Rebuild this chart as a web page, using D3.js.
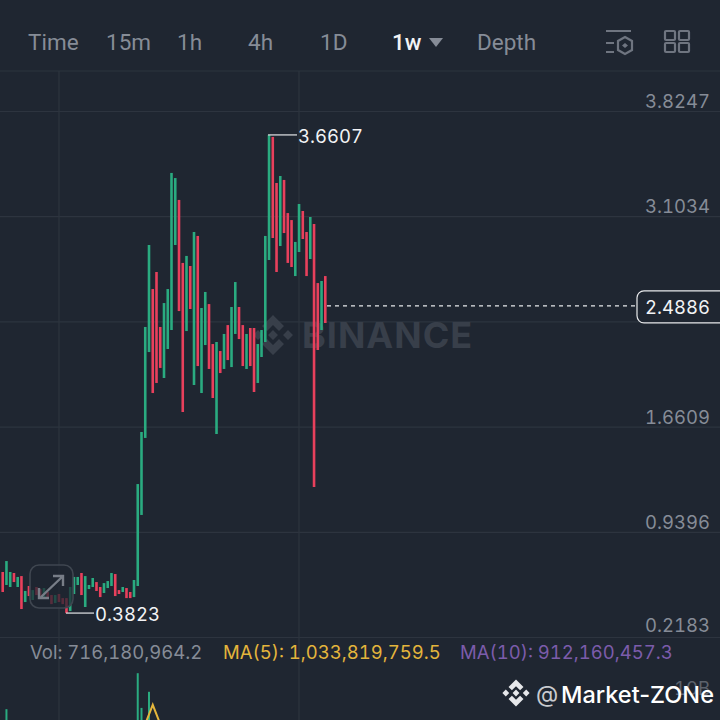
<!DOCTYPE html>
<html>
<head>
<meta charset="utf-8">
<script src="https://cdn.jsdelivr.net/npm/d3@7"></script>
<style>
  html, body { margin: 0; padding: 0; background: #1f2631; overflow: hidden; }
  svg { display: block; }
  text { font-variant-numeric: tabular-nums; }
</style>
</head>
<body>
<script>
// candle ranges (price units), oldest first
const highs = [0.664,0.739,0.664,0.657,0.630,0.636,0.534,0.568,0.540,0.561,
  0.547,0.554,0.527,0.506,0.506,0.513,0.485,0.485,0.561,0.630,
  0.630,0.657,0.636,0.575,0.623,0.595,0.561,0.588,0.602,0.657,
  0.650,0.540,0.561,0.554,0.527,0.609,1.267,1.624,2.344,2.906,
  2.604,2.721,2.344,2.508,2.604,3.400,3.365,3.215,2.783,2.831,
  2.762,2.995,2.968,2.474,2.584,2.501,2.227,2.241,2.179,2.296,
  2.357,2.481,2.652,2.481,2.357,2.296,2.337,2.337,2.227,2.323,
  2.968,3.661,3.647,3.331,3.379,3.352,3.125,3.077,2.927,3.187,
  3.139,2.995,3.098,3.050,2.645,2.659,2.693];
const lows = [0.527,0.575,0.561,0.595,0.561,0.410,0.458,0.499,0.472,0.506,
  0.492,0.492,0.485,0.444,0.451,0.458,0.444,0.382,0.396,0.513,
  0.575,0.506,0.424,0.547,0.561,0.534,0.492,0.520,0.554,0.568,
  0.499,0.513,0.527,0.485,0.485,0.492,0.568,1.055,1.583,2.172,
  1.891,1.960,2.063,1.994,2.193,2.323,2.906,2.453,1.761,2.316,
  2.467,1.946,2.076,1.891,2.220,2.056,1.857,1.610,2.028,2.056,
  2.117,2.069,2.296,2.261,2.076,2.056,2.076,1.898,1.960,2.138,
  2.241,2.803,2.954,2.721,2.899,2.988,2.783,2.755,2.693,2.858,
  2.947,2.693,2.810,1.247,2.186,2.323,2.371];
// 1 = green candle, 0 = red candle
const rising = [0,1,1,0,1,0,1,0,1,0,
  0,1,0,0,1,0,0,0,1,1,
  1,0,1,1,1,0,0,1,1,1,
  0,0,1,0,0,1,1,1,1,1,
  0,0,0,1,1,1,1,0,0,1,
  0,1,0,1,1,0,0,1,0,1,
  0,1,1,0,0,1,0,0,1,1,
  1,1,0,0,1,0,0,0,1,1,
  0,0,1,0,0,1,0];

// axis ticks, the 2.3822 one sits under the price tag
const priceTicks = [3.8247, 3.1034, 2.3822, 1.6609, 0.9396, 0.2183];
const lastPrice = 2.4886;
const highMark = 3.6607, lowMark = 0.3823;

// only these volume bars show above the bottom edge (in billions)
const volIndex = [1, 36, 37, 39];
const volValues = [8.2, 14.0, 8.4, 11.0];
const maIndex = [38, 40, 42];
const maValues = [5.8, 8.9, 5.8];

const tabs = ["Time", "15m", "1h", "4h", "1D", "1w", "Depth"];
const tabX = [28, 106, 177, 248, 320, 392, 477];

const bg = "#1f2631", grid = "#2d343f", gray = "#868c97";
const green = "#2aab80", red = "#e8405c";
const font = "Inter, sans-serif";
const labelSize = 18.5;

const svg = d3.select("body").append("svg").attr("width", 720).attr("height", 720);
svg.append("rect").attr("width", 720).attr("height", 720).attr("fill", bg);

const x = d3.scaleLinear().domain([0, highs.length - 1]).range([2.7, 325.3]);
const y = d3.scaleLinear().domain([0.2183, 3.8247]).range([637, 111]);
const yVol = d3.scaleLinear().domain([0, 10]).range([760, 698]);

// header
svg.append("line").attr("x1", 0).attr("x2", 720).attr("y1", 71).attr("y2", 71).attr("stroke", grid).attr("stroke-width", 1.2);
svg.selectAll(".tab").data(tabs).join("text")
    .attr("class", "tab")
    .attr("x", (d, i) => tabX[i])
    .attr("y", 50)
    .attr("font-family", "Roboto, sans-serif")
    .attr("font-size", 22.5)
    .attr("font-weight", d => d === "1w" ? 500 : 400)
    .attr("fill", d => d === "1w" ? "#f2f3f5" : gray)
    .text(d => d);
svg.append("path").attr("d", "M429,38H443L436,47Z").attr("fill", gray);

// list + hexagon icon
const icon = svg.append("g").attr("stroke", "#6f7580").attr("fill", "none").attr("stroke-width", 2.2);
icon.append("path").attr("d", "M606,31H631M606,43H614M606,52H614");
icon.append("path").attr("d", "M625,37L632,41V50L625,54L618,50V41Z");
icon.append("path").attr("d", "M625,43L628,45.500L625,48L622,45.500Z").attr("fill", "#6f7580").attr("stroke", "none");
// four squares icon
[[665, 31], [679, 31], [665, 43], [679, 43]].forEach(p => {
  icon.append("rect").attr("x", p[0]).attr("y", p[1]).attr("width", 10).attr("height", 9).attr("rx", 1);
});

// grid, labels lifted above their lines
const axis = d3.axisRight(y)
    .tickValues(priceTicks)
    .tickSize(720)
    .tickFormat(d => d === 2.3822 ? "" : d3.format(".4f")(d));
const gAxis = svg.append("g").call(axis);
gAxis.select(".domain").remove();
gAxis.selectAll(".tick line").attr("stroke", grid).attr("stroke-width", 1.2);
gAxis.selectAll(".tick text")
    .attr("x", 710).attr("dy", d => d === 0.2183 ? "-5.5px" : "-3.5px").attr("text-anchor", "end")
    .attr("font-family", font).attr("font-size", labelSize).attr("fill", gray);
svg.selectAll(".vgrid").data([59, 299]).join("line")
    .attr("class", "vgrid")
    .attr("x1", d => d).attr("x2", d => d).attr("y1", 71).attr("y2", 720)
    .attr("stroke", grid).attr("stroke-width", 1.2);

// BINANCE watermark
const mark = svg.append("g").attr("fill", "#383f4a");
function diamonds(g, cx, cy, s) {
  g.append("path").attr("transform", `translate(${cx},${cy}) scale(${s})`)
    .attr("fill-rule", "evenodd")
    .attr("d", "M0,-20L11,-9L6,-4L0,-10L-6,-4L-11,-9ZM-20,0L-15,-5L-10,0L-15,5ZM20,0L15,-5L10,0L15,5ZM0,-5L5,0L0,5L-5,0ZM0,20L11,9L6,4L0,10L-6,4L-11,9Z");
}
diamonds(mark, 273, 335, 1);
mark.append("text").attr("x", 302).attr("y", 348).attr("font-family", font)
    .attr("font-size", 36).attr("font-weight", 700).attr("letter-spacing", 1).text("BINANCE");

// candles
const candles = svg.append("g");
candles.selectAll("line").data(highs).join("line")
    .attr("x1", (d, i) => x(i))
    .attr("x2", (d, i) => x(i))
    .attr("y1", d => y(d))
    .attr("y2", (d, i) => y(lows[i]))
    .attr("stroke", (d, i) => rising[i] ? green : red)
    .attr("stroke-width", 2.6);

// high / low callouts
const callouts = [[71, highMark, 298], [17, lowMark, 95]];
callouts.forEach(c => {
  const cy = y(c[1]);
  const x0 = c[0] === 71 ? x(71) - 1 : 66;
  svg.append("line").attr("x1", x0).attr("x2", c[2] - 1).attr("y1", cy).attr("y2", cy)
      .attr("stroke", "#d5d7db").attr("stroke-width", 1.3);
  svg.append("text").attr("x", c[2]).attr("y", cy + 8).attr("font-family", font)
      .attr("font-size", labelSize).attr("fill", "#f2f3f5").text(d3.format(".4f")(c[1]));
});

// last price line and tag
const py = y(lastPrice);
svg.append("line").attr("x1", 327).attr("x2", 637).attr("y1", py).attr("y2", py)
    .attr("stroke", "#e8e9eb").attr("stroke-width", 1.2).attr("stroke-dasharray", "4,4");
svg.append("rect").attr("x", 637).attr("y", py - 15).attr("width", 90).attr("height", 32).attr("rx", 7)
    .attr("fill", bg).attr("stroke", "#e8e9eb").attr("stroke-width", 1.2);
svg.append("text").attr("x", 710).attr("y", py + 8).attr("text-anchor", "end").attr("font-family", font)
    .attr("font-size", labelSize).attr("fill", "#f2f3f5").text(d3.format(".4f")(lastPrice));

// expand button
svg.append("rect").attr("x", 30).attr("y", 565).attr("width", 43).attr("height", 43).attr("rx", 9)
    .attr("fill", bg).attr("fill-opacity", 0.72).attr("stroke", "#3f4650").attr("stroke-width", 1.6);
svg.append("path").attr("d", "M41,597L62,577M53,576H63V586M39,588V598H49")
    .attr("fill", "none").attr("stroke", "#777d87").attr("stroke-width", 2.4);

// legend
const legend = [["Vol: 716,180,964.2", 30, gray], ["MA(5): 1,033,819,759.5", 223, "#e4b53c"], ["MA(10): 912,160,457.3", 460, "#7c5cab"]];
svg.selectAll(".legend").data(legend).join("text")
    .attr("class", "legend")
    .attr("x", d => d[1]).attr("y", 659)
    .attr("font-family", font).attr("font-size", labelSize)
    .attr("fill", d => d[2]).text(d => d[0]);

// volume pane
svg.selectAll(".vol").data(volValues).join("line")
    .attr("class", "vol")
    .attr("x1", (d, i) => x(volIndex[i])).attr("x2", (d, i) => x(volIndex[i]))
    .attr("y1", d => yVol(d)).attr("y2", 720)
    .attr("stroke", green).attr("stroke-width", 2);
svg.append("path")
    .attr("d", d3.line().x((d, i) => x(maIndex[i])).y(d => yVol(d))(maValues))
    .attr("fill", "none").attr("stroke", "#e4b53c").attr("stroke-width", 2);
svg.append("text").attr("x", 710).attr("y", 695).attr("text-anchor", "end").attr("font-family", font)
    .attr("font-size", labelSize).attr("fill", "#5c626c").text("10B");

// source tag
const tag = svg.append("g").attr("fill", "#e6e7ea");
diamonds(tag, 516, 693, 0.68);
tag.append("text").attr("x", 536).attr("y", 702).attr("font-family", font).attr("font-size", 23).attr("fill", "#c9cbcf").text("@");
tag.append("text").attr("x", 561).attr("y", 703).attr("font-family", font).attr("font-size", 23.5)
    .attr("font-weight", 500).style("font-variant-numeric", "normal").style("font-feature-settings", "normal")
    .attr("fill", "#fff").text("Market-ZONe");
</script>
</body>
</html>
